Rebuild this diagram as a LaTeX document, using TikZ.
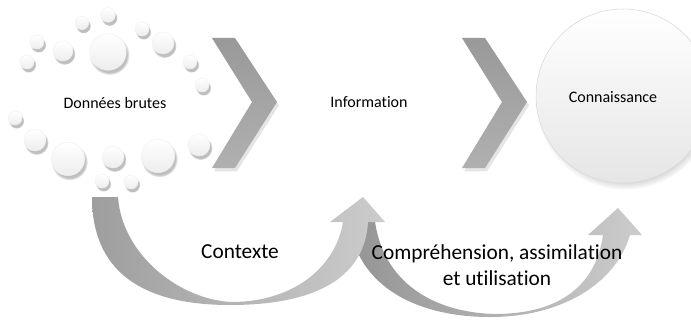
\documentclass[tikz,border=0pt]{standalone}
\usepackage{fontspec}
\setmainfont[Ligatures=NoCommon]{Carlito}
\usetikzlibrary{shadows}
\tikzset{
  bulle/.style={top color=white,bottom color=gray!14,draw=gray!12,line width=0.3pt,
    circular drop shadow={shadow scale=1.1,shadow xshift=1pt,shadow yshift=-2pt,opacity=.5}},
  chevron/.style={top color=black!40,bottom color=black!31,
    drop shadow={shadow xshift=1.5pt,shadow yshift=-2.5pt,opacity=.2}},
  boule/.style={top color=white,bottom color=gray!20,draw=gray!30,line width=0.4pt,
    circular drop shadow={shadow scale=1.03,shadow xshift=1.5pt,shadow yshift=-3pt,opacity=.5}},
  fleche/.style={left color=black!38,right color=black!20},
  etiquette/.style={font=\fontsize{12}{14}\selectfont},
  legende/.style={font=\fontsize{16}{19.5}\selectfont,align=center}
}
\begin{document}
\begin{tikzpicture}[x=0.75pt,y=-0.75pt]
\useasboundingbox (0,0) rectangle (691,321);
\clip (0,0) rectangle (691,321);
\fill[white] (0,0) rectangle (691,321);
\foreach \x/\y/\r in {108/15/7.3,108/52/18.3,82/23/6.7,37/42/7,63/51/10,27/62/7,
  142/29/7,163/43/11,190/62/7,202/85/7,15/118/7,35/140/11,68/159/16.7,
  113/157/11,158/156/16.7,199/145/11,102/181/7,131/182/7}
  \path[bulle] (\x,\y) circle[radius=\r*0.75pt];
\path[chevron] (212,38) -- (235,38) -- (277,102) -- (235,168) -- (212,168) -- (252,102) -- cycle;
\path[chevron] (462,38) -- (485,38) -- (527,102) -- (485,168) -- (462,168) -- (502,102) -- cycle;
\path[boule] (623,96) circle[radius=87*0.75pt];
\path[fleche,left color=black!42,right color=black!20]
  (348,209) .. controls (350,285) and (415,317) .. (490,317)
  .. controls (560,317) and (615,285) .. (630,235) -- (642,235) -- (618,208) -- (588,235) -- (603,235)
  .. controls (596,285) and (560,314) .. (495,314)
  .. controls (420,312) and (376,270) .. (374,209) -- cycle;
\path[fleche]
  (92,197) .. controls (92,270) and (140,305) .. (230,305)
  .. controls (320,305) and (365,275) .. (368,222) -- (385,222) -- (363,197) -- (330,222) -- (343,222)
  .. controls (335,270) and (290,302) .. (232,302)
  .. controls (180,300) and (122,255) .. (118,197) -- cycle;
\node[etiquette] (donnees) at (115,103) {Données brutes};
\node[etiquette] (info) at (369,102) {Information};
\node[etiquette] (savoir) at (613,97) {Connaissance};
\node[legende] (contexte) at (240,252) {Contexte};
\node[legende] (usage) at (497,265) {Compréhension, assimilation\\et utilisation};
\end{tikzpicture}
\end{document}
